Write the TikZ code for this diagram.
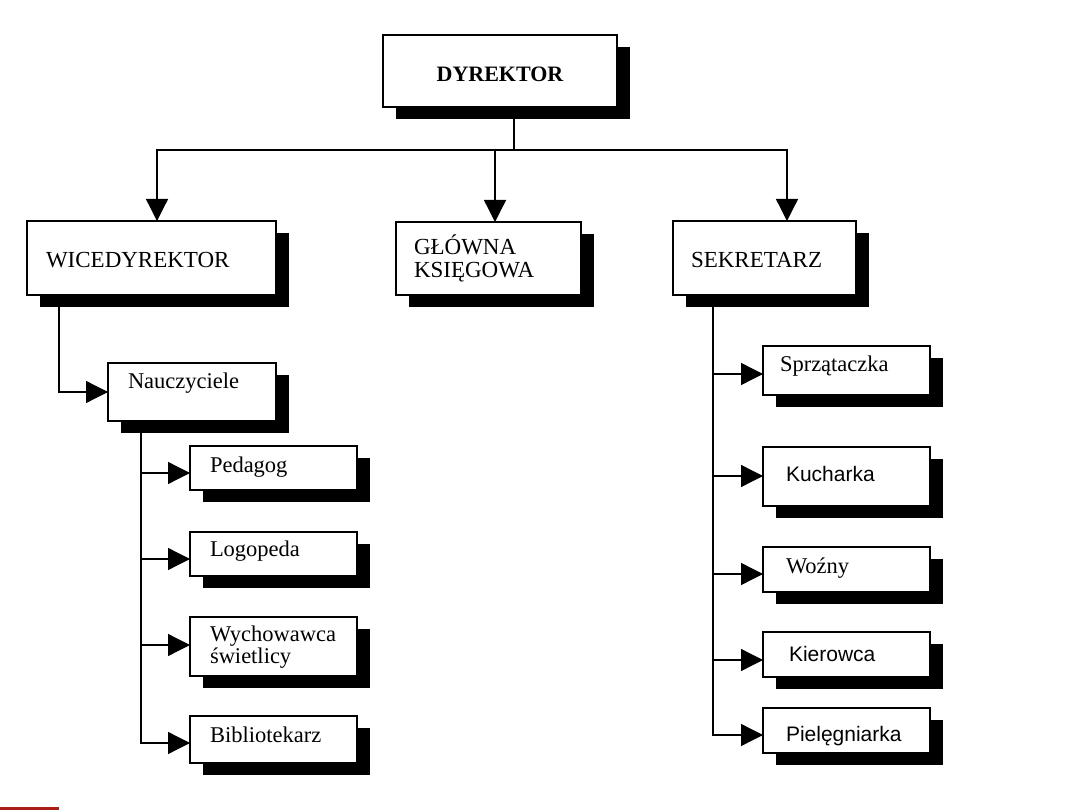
\documentclass[tikz,border=0pt]{standalone}
\usepackage{fontspec}
\setmainfont{Liberation Serif}
\newfontfamily\sansf{Liberation Sans}
\usetikzlibrary{arrows.meta,backgrounds}
\definecolor{redmark}{RGB}{170,30,20}
\tikzset{
  orgbox/.style={draw=black, fill=white, line width=1.3pt, inner sep=0pt, outer sep=0pt, rectangle},
  shadowbox/.style={fill=black},
  conn/.style={draw=black, line width=1.3pt},
  arr/.style={conn, -{Triangle[length=22pt,width=22pt]}},
  lbl/.style={inner sep=0pt, outer sep=0pt, anchor=base west, align=left},
  bigf/.style={font=\fontsize{23}{23}\selectfont},
  smallf/.style={font=\fontsize{22.5}{22}\selectfont},
  sansfont/.style={font=\sansf\fontsize{21}{22}\selectfont}
}
\newcommand\orgnode[5]{%
  \fill[shadowbox] (#2+13,#3+12) rectangle (#4+13,#5+12);
  \node[orgbox, anchor=north west, minimum width={#4-#2}, minimum height={#5-#3}] (#1) at (#2,#3) {};}
\begin{document}
\begin{tikzpicture}[x=1pt,y=-1pt]
\useasboundingbox (0,0) rectangle (1080,810);
% boxes
\orgnode{dyr}{383}{35}{617}{107}
\orgnode{wic}{27}{221}{276}{295}
\orgnode{glo}{396}{222}{581}{295}
\orgnode{sek}{673}{221}{856}{295}
\orgnode{nau}{108}{363}{276}{421}
\orgnode{ped}{190}{446}{357}{490}
\orgnode{log}{190}{532}{357}{576}
\orgnode{wyc}{190}{617}{357}{676}
\orgnode{bib}{190}{716}{357}{763}
\orgnode{spr}{763}{346}{930}{395}
\orgnode{kuc}{763}{447}{930}{506}
\orgnode{woz}{763}{547}{930}{592}
\orgnode{kie}{763}{632}{930}{677}
\orgnode{pie}{763}{708}{930}{753}
% texts
\node[inner sep=0pt, anchor=base, font=\bfseries\fontsize{22}{23}\selectfont] (tdyr) at (500,82) {DYREKTOR};
\node[lbl, bigf] (twic) at (46,268) {WICEDYREKTOR};
\node[lbl, bigf] (tglo) at (414,278) {GŁÓWNA\\KSIĘGOWA};
\node[lbl, bigf] (tsek) at (691,268) {SEKRETARZ};
\node[lbl, smallf] (tnau) at (128,389) {Nauczyciele};
\node[lbl, smallf] (tped) at (210,472) {Pedagog};
\node[lbl, smallf] (tlog) at (210,556) {Logopeda};
\node[lbl, smallf] (twyc) at (210,663) {Wychowawca\\świetlicy};
\node[lbl, smallf] (tbib) at (210,742) {Bibliotekarz};
\node[lbl, smallf] (tspr) at (780,372) {Sprzątaczka};
\node[lbl, sansfont] (tkuc) at (786,482) {Kucharka};
\node[lbl, smallf] (twoz) at (786,573) {Woźny};
\node[lbl, sansfont] (tkie) at (789,661) {Kierowca};
\node[lbl, sansfont] (tpie) at (786,741) {Pielęgniarka};
% connectors
\begin{pgfonlayer}{background}
\draw[arr] (dyr.south -| 514,0) -- (514,150) -| (wic.north -| 157,0);
\draw[arr] (dyr.south -| 514,0) -- (514,150) -| (glo.north -| 495,0);
\draw[arr] (dyr.south -| 514,0) -- (514,150) -| (sek.north -| 787,0);
\draw[arr] (wic.south -| 59,0) |- (nau.west);
\draw[arr] (nau.south -| 141,0) |- (ped.west |- 0,473);
\draw[arr] (nau.south -| 141,0) |- (log.west |- 0,559);
\draw[arr] (nau.south -| 141,0) |- (wyc.west |- 0,645);
\draw[arr] (nau.south -| 141,0) |- (bib.west |- 0,743);
\draw[arr] (sek.south -| 713,0) |- (spr.west |- 0,374);
\draw[arr] (sek.south -| 713,0) |- (kuc.west |- 0,476);
\draw[arr] (sek.south -| 713,0) |- (woz.west |- 0,574);
\draw[arr] (sek.south -| 713,0) |- (kie.west |- 0,660);
\draw[arr] (sek.south -| 713,0) |- (pie.west |- 0,735);
\end{pgfonlayer}
\draw[redmark, line width=2.5pt] (0,808.5) -- (59,808.5);
\end{tikzpicture}
\end{document}
